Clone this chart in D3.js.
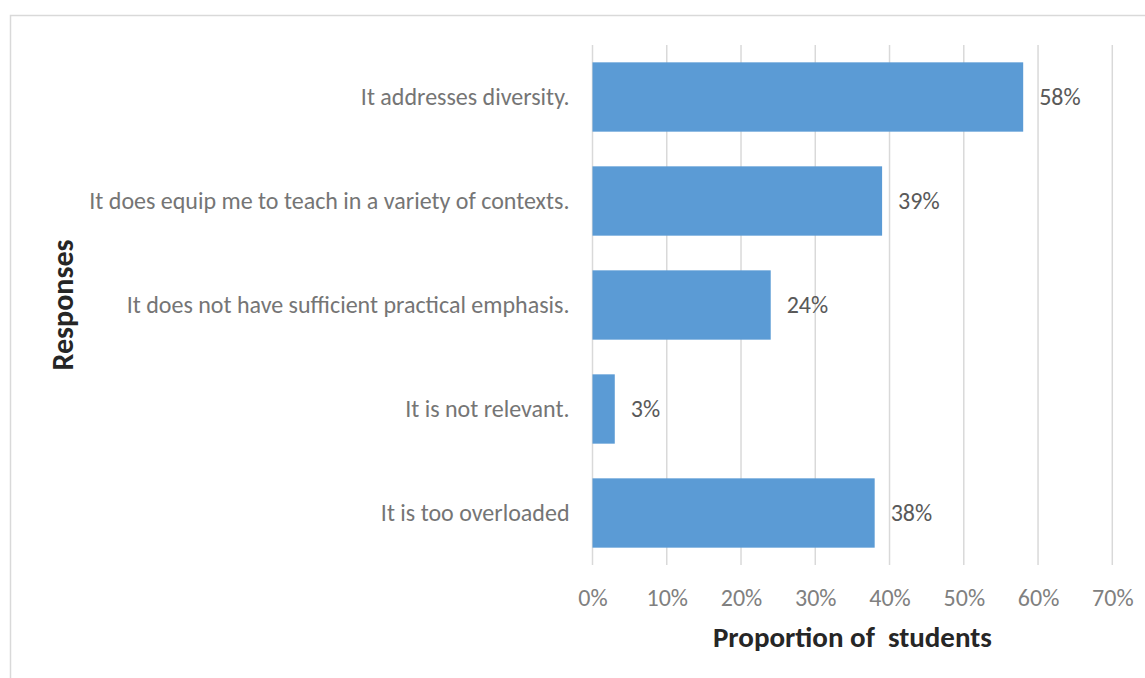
<!DOCTYPE html>
<html>
<head>
<meta charset="utf-8">
<script src="https://cdn.jsdelivr.net/npm/d3@7"></script>
<style>
  html, body { margin: 0; padding: 0; background: #fff; }
  svg { display: block; }
  text { font-family: Carlito, Lato, "Liberation Sans", sans-serif; }
</style>
</head>
<body>
<svg id="chart" width="1145" height="678"></svg>
<script>
// Survey responses and the share of students choosing each
const categories = [
  "It addresses diversity.",
  "It does equip me to teach in a variety of contexts.",
  "It does not have sufficient practical emphasis.",
  "It is not relevant.",
  "It is too overloaded"
];
const values = [0.58, 0.39, 0.24, 0.03, 0.38];
const xTicks = [0, 0.1, 0.2, 0.3, 0.4, 0.5, 0.6, 0.7];
const xTitle = "Proportion of  students";
const yTitle = "Responses";

const svg = d3.select("#chart");
const W = 1145, H = 678;
const FONT = "Carlito, Lato, 'Liberation Sans', sans-serif";

// chart frame
svg.append("path")
  .attr("d", `M10.5,${H} V15.5 H${W}`)
  .attr("fill", "none")
  .attr("stroke", "#d9d9d9")
  .attr("stroke-width", 1.5);

const plot = { left: 592.5, right: 1112.3, top: 45, bottom: 565 };

const x = d3.scaleLinear().domain([0, 0.7]).range([plot.left, plot.right]);
const y = d3.scaleBand().domain(categories).range([plot.top, plot.bottom])
  .paddingInner(1 / 3).paddingOuter(1 / 6);

// vertical gridlines
svg.append("g").selectAll("line").data(xTicks).join("line")
  .attr("x1", d => x(d)).attr("x2", d => x(d))
  .attr("y1", plot.top).attr("y2", plot.bottom)
  .attr("stroke", "#d9d9d9").attr("stroke-width", 1.5);

// bars
svg.append("g").selectAll("rect").data(values).join("rect")
  .attr("x", x(0))
  .attr("y", (d, i) => y(categories[i]))
  .attr("width", d => x(d) - x(0))
  .attr("height", y.bandwidth())
  .attr("fill", "#5b9bd5");

// value labels
svg.append("g").selectAll("text").data(values).join("text")
  .attr("x", d => x(d) + 16)
  .attr("y", (d, i) => y(categories[i]) + y.bandwidth() / 2)
  .attr("dy", "0.35em")
  .attr("fill", "#595959")
  .attr("font-size", 24)
  .text(d => d3.format(".0%")(d));

// category axis
const yAxis = d3.axisLeft(y).tickSize(0).tickPadding(23);
const yg = svg.append("g").attr("transform", `translate(${plot.left},0)`).call(yAxis);
yg.select(".domain").remove();
yg.selectAll("text")
  .attr("fill", "#757575")
  .attr("font-size", 24)
  .style("font-family", FONT);

// value axis
const xAxis = d3.axisBottom(x).tickValues(xTicks).tickFormat(d3.format(".0%")).tickSize(0).tickPadding(24);
const xg = svg.append("g").attr("transform", `translate(0,${plot.bottom})`).call(xAxis);
xg.select(".domain").remove();
xg.selectAll("text")
  .attr("fill", "#808080")
  .attr("font-size", 24)
  .style("font-family", FONT);

// axis titles
svg.append("text")
  .attr("x", (plot.left + plot.right) / 2)
  .attr("y", 647)
  .attr("text-anchor", "middle")
  .attr("font-size", 29)
  .attr("font-weight", "bold")
  .attr("fill", "#262626")
  .style("white-space", "pre")
  .text(xTitle);

svg.append("text")
  .attr("transform", `translate(73,${(plot.top + plot.bottom) / 2}) rotate(-90)`)
  .attr("text-anchor", "middle")
  .attr("font-size", 30)
  .attr("font-weight", "bold")
  .attr("fill", "#262626")
  .text(yTitle);
</script>
</body>
</html>
